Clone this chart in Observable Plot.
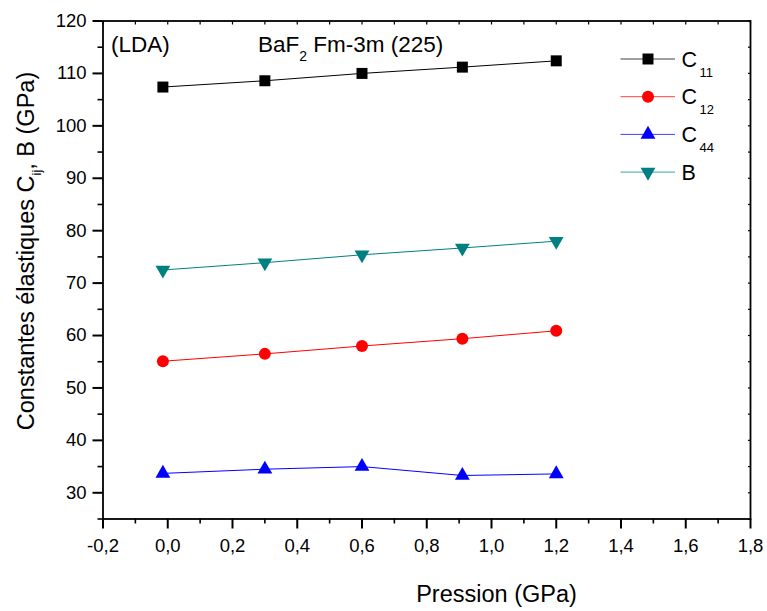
<!DOCTYPE html>
<html><head><meta charset="utf-8">
<script src="https://cdn.jsdelivr.net/npm/d3@7"></script>
<script src="https://cdn.jsdelivr.net/npm/@observablehq/plot@0.6"></script>
<style>
body{margin:0;background:#fff;}
#wrap{position:relative;width:767px;height:611px;}
#wrap svg{position:absolute;left:0;top:0;}
</style></head><body><div id="wrap"></div>
<script>
// ---- data ----
const pressure = [-0.015, 0.30, 0.60, 0.91, 1.20];
const c11 = [107.4, 108.6, 110.0, 111.2, 112.4];
const c12 = [55.1, 56.5, 58.0, 59.4, 60.9];
const c44 = [33.7, 34.5, 35.0, 33.3, 33.6];
const bulk = [72.5, 73.9, 75.4, 76.7, 78.0];
const seriesKeys = ["C11", "C12", "C44", "B"];
const seriesMain = ["C", "C", "C", "B"];
const seriesSub = ["11", "12", "44", ""];
const seriesColors = ["#000000", "#ff0000", "#0000ff", "#008080"];
const xMajorTicks = [-0.2, 0.0, 0.2, 0.4, 0.6, 0.8, 1.0, 1.2, 1.4, 1.6, 1.8];
const xMinorTicks = [-0.1, 0.1, 0.3, 0.5, 0.7, 0.9, 1.1, 1.3, 1.5, 1.7];
const yMajorTicks = [30, 40, 50, 60, 70, 80, 90, 100, 110, 120];
const yMinorTicks = [25, 35, 45, 55, 65, 75, 85, 95, 105, 115];

const FONT = "'Liberation Sans', Arial, Helvetica, sans-serif";
const seriesValues = [c11, c12, c44, bulk];
const rows = [];
seriesKeys.forEach((k, i) => pressure.forEach((p, j) => rows.push({s: k, p, v: seriesValues[i][j]})));

const sqrt3 = Math.sqrt(3);
const triangleDown = {
  draw(context, size) {
    const y = -Math.sqrt(size / (sqrt3 * 3));
    context.moveTo(0, -y * 2);
    context.lineTo(-sqrt3 * y, y);
    context.lineTo(sqrt3 * y, y);
    context.closePath();
  }
};
const symbols = ["square", "circle", "triangle", triangleDown];
const radii = [6.2, 6.0, 5.5, 5.5];

const fmt = d => d.toFixed(1).replace(".", ",");

const marks = [
  Plot.axisX(xMajorTicks, {anchor: "bottom", tickSize: 10, tickPadding: 10, strokeWidth: 2, tickFormat: fmt, label: null}),
  Plot.axisX(xMinorTicks, {anchor: "bottom", tickSize: 5, strokeWidth: 1.6, fill: "none", label: null}),
  Plot.axisY(yMajorTicks, {anchor: "left", tickSize: 10, tickPadding: 6.5, strokeWidth: 2, tickFormat: d => String(d), label: null}),
  Plot.axisY(yMinorTicks, {anchor: "left", tickSize: 5, strokeWidth: 1.6, fill: "none", label: null}),
  Plot.axisX(xMajorTicks.concat(xMinorTicks), {anchor: "top", tickSize: 3, insetTop: 3, strokeWidth: 1.2, fill: "none", label: null}),
  Plot.axisY(yMajorTicks.concat(yMinorTicks), {anchor: "right", tickSize: 3, insetRight: 3, strokeWidth: 1.2, fill: "none", label: null}),
  Plot.frame({stroke: "black", strokeWidth: 1.8})
];
seriesKeys.forEach((k, i) => {
  const d = rows.filter(r => r.s === k);
  marks.push(Plot.line(d, {x: "p", y: "v", stroke: seriesColors[i], strokeWidth: 1}));
  marks.push(Plot.dot(d, {x: "p", y: "v", symbol: symbols[i], r: radii[i], fill: seriesColors[i], stroke: "none"}));
});

const chart = Plot.plot({
  width: 767,
  height: 611,
  marginLeft: 102.5,
  marginRight: 17,
  marginTop: 20.5,
  marginBottom: 92.5,
  x: {domain: [-0.2, 1.8]},
  y: {domain: [25, 120]},
  style: {fontFamily: FONT, fontSize: "18.5px", color: "black", background: "white"},
  marks
});
const wrap = document.getElementById("wrap");
wrap.appendChild(chart);

// ---- overlay: titles, annotations, legend ----
const svg = d3.select(wrap).append("svg")
  .attr("width", 767).attr("height", 611)
  .style("pointer-events", "none")
  .style("font-family", FONT)
  .attr("fill", "black");

// y-axis title (rotated)
const yt = svg.append("text")
  .attr("transform", "translate(33.5,251) rotate(-90)")
  .attr("text-anchor", "middle")
  .attr("font-size", 23.5);
yt.append("tspan").text("Constantes élastiques C");
yt.append("tspan").attr("font-size", 13).attr("dy", 7).text("ij");
yt.append("tspan").attr("dy", -7).text(", B (GPa)");

// x-axis title
svg.append("text").attr("x", 496.5).attr("y", 601.5).attr("text-anchor", "middle")
  .attr("font-size", 23.5).text("Pression (GPa)");

// annotations
svg.append("text").attr("x", 111).attr("y", 51.5).attr("font-size", 22.5).text("(LDA)");
const tt = svg.append("text").attr("x", 258).attr("y", 51.5).attr("font-size", 22.5);
tt.append("tspan").text("BaF");
tt.append("tspan").attr("font-size", 14).attr("dy", 9).text("2");
tt.append("tspan").attr("dy", -9).text(" Fm-3m (225)");

// legend
seriesKeys.forEach((k, i) => {
  const cy = 59 + i * 37.7;
  const g = svg.append("g");
  g.append("line").attr("x1", 620.5).attr("x2", 675).attr("y1", cy).attr("y2", cy)
    .attr("stroke", seriesColors[i]).attr("stroke-width", 1).attr("opacity", 0.75);
  const sym = typeof symbols[i] === "string"
    ? {square: d3.symbolSquare, circle: d3.symbolCircle, triangle: d3.symbolTriangle}[symbols[i]]
    : symbols[i];
  g.append("path").attr("transform", `translate(648,${cy})`)
    .attr("d", d3.symbol(sym, radii[i] * radii[i] * Math.PI)())
    .attr("fill", seriesColors[i]);
  const t = g.append("text").attr("x", 681.5).attr("y", cy + 7.5).attr("font-size", 21.5);
  t.append("tspan").text(seriesMain[i]);
  if (seriesSub[i]) t.append("tspan").attr("font-size", 13).attr("dx", 2.5).attr("dy", 10).text(seriesSub[i]);
});
</script>
</body></html>
